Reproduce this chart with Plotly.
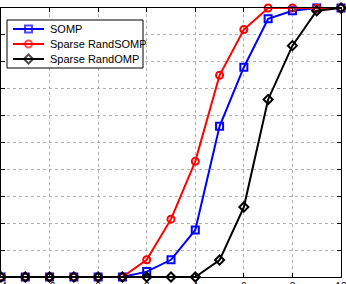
import plotly.graph_objects as go

snr = [-4, -3, -2, -1, 0, 1, 2, 3, 4, 5, 6, 7, 8, 9, 10]
somp = [0, 0, 0, 0, 0, 0, 0.02, 0.064, 0.175, 0.56, 0.78, 0.96, 0.99, 1.0, 1.0]
rand_somp = [0, 0, 0, 0, 0, 0, 0.064, 0.215, 0.43, 0.75, 0.92, 1.0, 1.0, 1.0, 1.0]
rand_omp = [0, 0, 0, 0, 0, 0, 0, 0, 0, 0.063, 0.26, 0.66, 0.86, 0.99, 1.0]
x_ticks = [-4, -2, 0, 2, 4, 6, 8, 10]
y_ticks = [0, 0.1, 0.2, 0.3, 0.4, 0.5, 0.6, 0.7, 0.8, 0.9, 1.0]
names = ["SOMP", "Sparse RandSOMP", "Sparse RandOMP"]

colors = ["#0000ff", "#ff0000", "#000000"]
symbols = ["square-open", "circle-open", "diamond-open"]
values = [somp, rand_somp, rand_omp]

PLOT_W, PLOT_H = 340, 269

fig = go.Figure()
for name, vals, col, sym in zip(names, values, colors, symbols):
    fig.add_trace(go.Scatter(
        x=snr, y=vals, name=name, mode="lines+markers",
        line=dict(color=col, width=2),
        marker=dict(symbol=sym, size=7, color=col, line=dict(color=col, width=2)),
        cliponaxis=False, showlegend=False,
    ))

# manual legend drawn on pixel-like overlay axes
LEG_BOX = (6, 12, 142, 60)
LEG_ROW0, LEG_ROW_STEP = 21, 15
LEG_LINE_X = (12, 43)
LEG_TEXT_X = 47

bx0, by0, bx1, by1 = LEG_BOX
fig.add_trace(go.Scatter(
    x=[bx0, bx1, bx1, bx0, bx0], y=[by0, by0, by1, by1, by0],
    xaxis="x2", yaxis="y2", mode="lines", fill="toself", fillcolor="#ffffff",
    line=dict(color="#000000", width=1), showlegend=False, hoverinfo="skip",
))
annotations = []
for i, (name, col, sym) in enumerate(zip(names, colors, symbols)):
    yy = LEG_ROW0 + i * LEG_ROW_STEP
    xm = (LEG_LINE_X[0] + LEG_LINE_X[1]) / 2
    fig.add_trace(go.Scatter(
        x=[LEG_LINE_X[0], xm, LEG_LINE_X[1]], y=[yy, yy, yy], xaxis="x2", yaxis="y2",
        mode="lines+markers", showlegend=False, hoverinfo="skip",
        line=dict(color=col, width=2),
        marker=dict(symbol=sym, size=[0, 7, 0], color=col, line=dict(color=col, width=2)),
    ))
    annotations.append(dict(xref="x2", yref="y2", x=LEG_TEXT_X, y=yy,
                            text=name, showarrow=False, xanchor="left", yanchor="middle",
                            font=dict(family="Liberation Sans, Arial", size=11, color="#000000")))

axis_common = dict(
    showline=True, linecolor="#000000", linewidth=1, mirror="ticks",
    ticks="inside", ticklen=4, tickcolor="#000000",
    showgrid=True, gridcolor="#b0b0b0", griddash="dot", gridwidth=1,
    zeroline=False, automargin=False,
)
fig.update_layout(
    xaxis=dict(range=[-4, 10], tickvals=x_ticks, ticklabeloverflow="allow",
               tickfont=dict(family="Liberation Sans, Arial", size=10, color="#000000"),
               **axis_common),
    yaxis=dict(range=[0, 1], tickvals=y_ticks, showticklabels=False, **axis_common),
    xaxis2=dict(overlaying="x", range=[0, PLOT_W], visible=False, fixedrange=True),
    yaxis2=dict(overlaying="y", range=[PLOT_H, 0], visible=False, fixedrange=True),
    annotations=annotations,
    width=346, height=284,
    margin=dict(l=1, r=5, t=8, b=7),
    paper_bgcolor="#ffffff", plot_bgcolor="#ffffff",
    font=dict(family="Liberation Sans, Arial", size=11, color="#000000"),
    showlegend=False,
)

fig.write_html("out.html")
